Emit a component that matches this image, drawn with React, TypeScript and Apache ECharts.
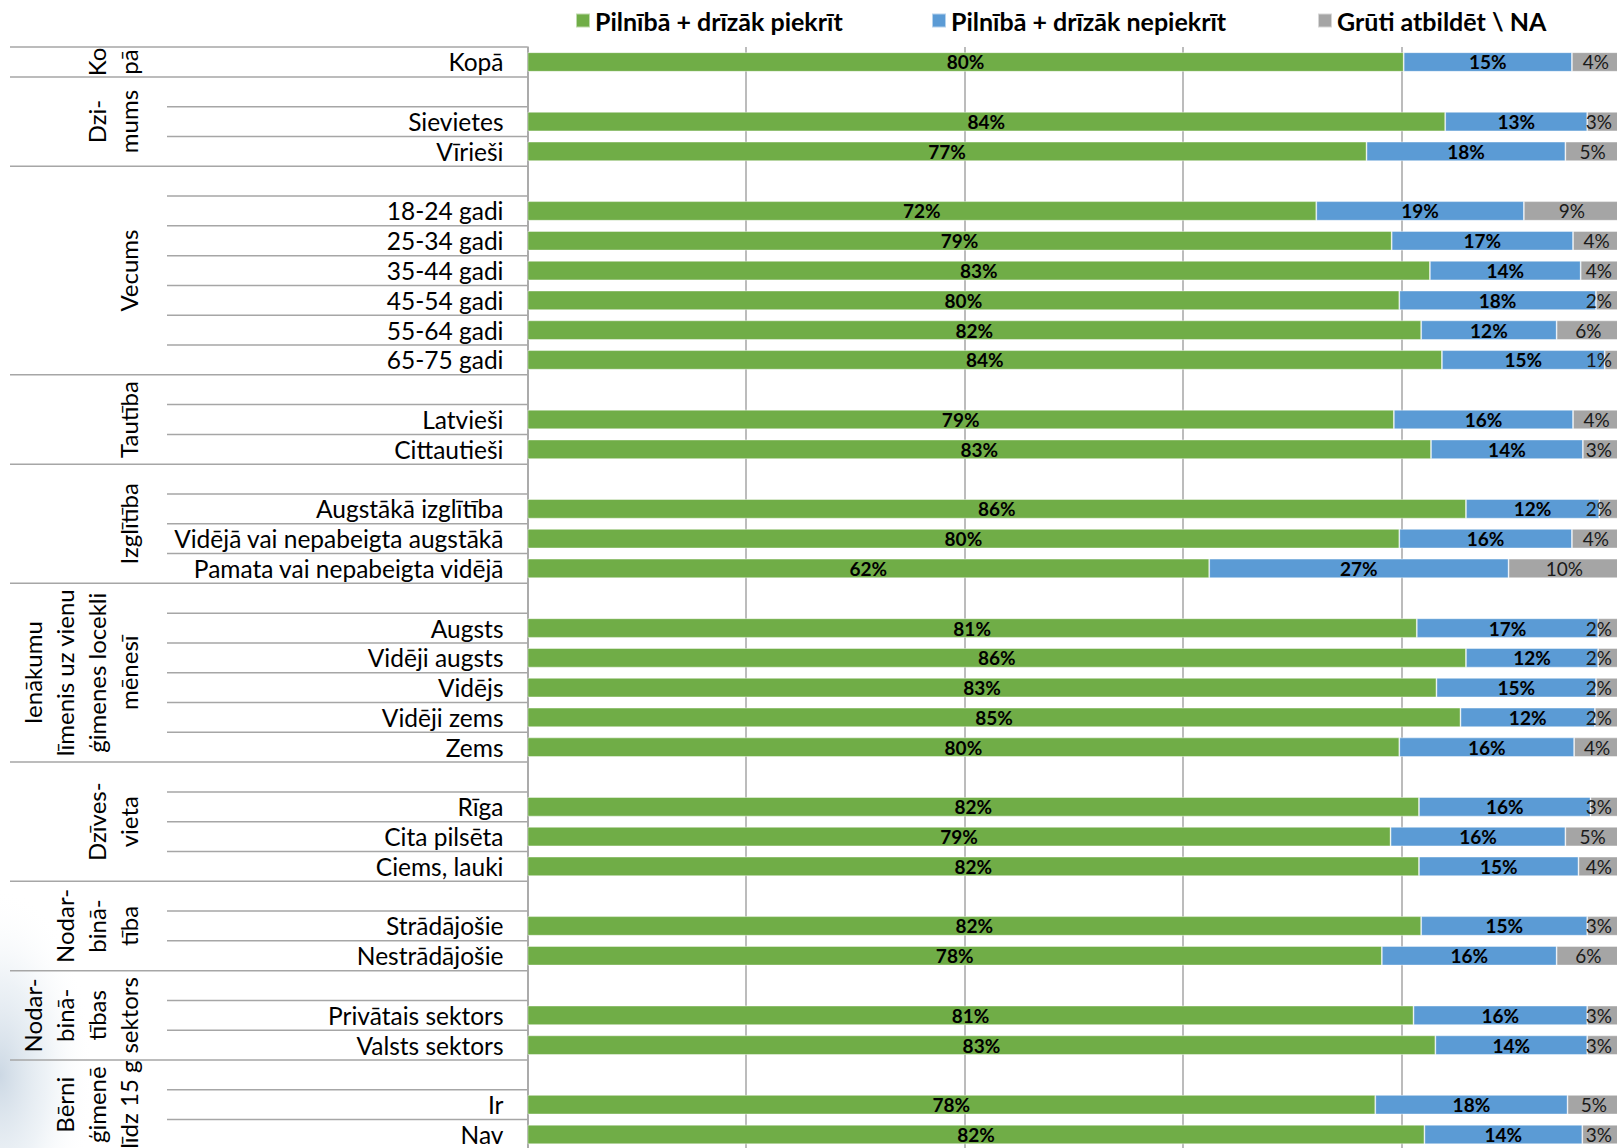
import React, { useEffect, useRef } from "react";
import * as echarts from "echarts";

const categories = [
  "Kopā", "", "Sievietes", "Vīrieši", "",
  "18-24 gadi", "25-34 gadi", "35-44 gadi", "45-54 gadi", "55-64 gadi", "65-75 gadi", "",
  "Latvieši", "Cittautieši", "",
  "Augstākā izglītība", "Vidējā vai nepabeigta augstākā", "Pamata vai nepabeigta vidējā", "",
  "Augsts", "Vidēji augsts", "Vidējs", "Vidēji zems", "Zems", "",
  "Rīga", "Cita pilsēta", "Ciems, lauki", "",
  "Strādājošie", "Nestrādājošie", "",
  "Privātais sektors", "Valsts sektors", "",
  "Ir", "Nav",
];

const agree = [80.2, null, 84.0, 76.8, null, 72.2, 79.1, 82.6, 79.8, 81.8, 83.7, null, 79.3, 82.7, null, 85.9, 79.8, 62.4, null, 81.4, 85.9, 83.2, 85.4, 79.8, null, 81.6, 79.0, 81.6, null, 81.8, 78.2, null, 81.1, 83.1, null, 77.6, 82.1];
const disagree = [15.4, null, 13.0, 18.2, null, 19.0, 16.6, 13.8, 18.0, 12.4, 14.9, null, 16.4, 13.9, null, 12.2, 15.8, 27.4, null, 16.6, 12.1, 14.6, 12.3, 16.0, null, 15.7, 16.0, 14.6, null, 15.2, 16.0, null, 15.9, 13.9, null, 17.6, 14.45];
const na = [4.4, null, 3.0, 5.0, null, 8.8, 4.3, 3.6, 2.2, 5.8, 1.4, null, 4.3, 3.4, null, 1.9, 4.4, 10.2, null, 2.0, 2.0, 2.2, 2.3, 4.2, null, 2.7, 5.0, 3.8, null, 3.0, 5.8, null, 3.0, 3.0, null, 4.8, 3.45];

const seriesNames = ["Pilnībā + drīzāk piekrīt", "Pilnībā + drīzāk nepiekrīt", "Grūti atbildēt \\ NA"];

const groupLabels = [
  "Ko\npā",
  "Dzi-\nmums",
  "Vecums",
  "Tautība",
  "Izglītība",
  "Ienākumu\nlīmenis uz vienu\nģimenes locekli\nmēnesī",
  "Dzīves-\nvieta",
  "Nodar-\nbinā-\ntība",
  "Nodar-\nbinā-\ntības\nsektors",
  "Bērni\nģimenē\nlīdz 15 g",
];
const groupFirst = [0, 1, 4, 11, 14, 18, 24, 28, 31, 34];
const groupLast = [0, 3, 10, 13, 17, 23, 27, 30, 33, 36];

const FONT = "Lato, 'Open Sans', sans-serif";
const LINE = "#A6A6A6";

export default function App() {
  const ref = useRef<HTMLDivElement>(null);

  useEffect(() => {
    if (!ref.current) return;
    const chart = echarts.init(ref.current, null, { renderer: "svg" });

    const labelBase = {
      show: true,
      position: "inside",
      fontFamily: FONT,
      fontSize: 19,
      color: "#000",
      formatter: (p: any) => (p.value == null ? "" : `${Math.round(p.value)}%`),
    };

    const naData = na.map((v) =>
      v == null ? null : v < 3.9 ? { value: v, label: { position: "insideRight", distance: 8 } } : v
    );

    const legendCommon = {
      orient: "horizontal",
      top: 8,
      padding: 0,
      itemWidth: 14,
      itemHeight: 14,
      icon: "rect",
      textStyle: { fontFamily: FONT, fontSize: 25, fontWeight: "bold", color: "#000" },
    };

    chart.setOption({
      animation: false,
      backgroundColor: "#fff",
      legend: [
        { ...legendCommon, left: 575, data: [seriesNames[0]] },
        { ...legendCommon, left: 931, data: [seriesNames[1]] },
        { ...legendCommon, left: 1317, data: [seriesNames[2]] },
      ],
      grid: { left: 527.5, top: 47.1, width: 1092.5, height: 1102.3 },
      xAxis: {
        type: "value",
        min: 0,
        max: 100,
        interval: 20,
        axisLabel: { show: false },
        axisLine: { show: false },
        axisTick: { show: false },
        splitLine: { show: true, lineStyle: { color: LINE, width: 1.5 } },
      },
      yAxis: {
        type: "category",
        inverse: true,
        data: categories,
        axisLine: { show: true, lineStyle: { color: LINE, width: 1.5 } },
        axisTick: { show: false },
        axisLabel: {
          interval: 0,
          fontFamily: FONT,
          fontSize: 24.5,
          color: "#000",
          margin: 24,
          padding: [0, 0, 4, 0],
        },
      },
      series: [
        {
          name: seriesNames[0],
          type: "bar",
          stack: "total",
          barWidth: 19.5,
          data: agree,
          itemStyle: { color: "#70AD47", borderColor: "rgba(255,255,255,0.55)", borderWidth: 0.8 },
          label: { ...labelBase, fontWeight: "bold" },
        },
        {
          name: seriesNames[1],
          type: "bar",
          stack: "total",
          barWidth: 19.5,
          data: disagree,
          itemStyle: { color: "#5B9BD5", borderColor: "rgba(255,255,255,0.55)", borderWidth: 0.8 },
          label: { ...labelBase, fontWeight: "bold" },
        },
        {
          name: seriesNames[2],
          type: "bar",
          stack: "total",
          barWidth: 19.5,
          data: naData,
          itemStyle: { color: "#A5A5A5", borderColor: "rgba(255,255,255,0.55)", borderWidth: 0.8 },
          label: { ...labelBase, fontWeight: "normal", color: "#1a1a1a" },
        },
      ],
    });

    // Build hierarchical category decorations from the axis scale
    const yAt = (i: number) => chart.convertToPixel({ yAxisIndex: 0 }, i) as number;
    const band = yAt(1) - yAt(0);
    const axisX = chart.convertToPixel({ xAxisIndex: 0 }, 0) as number;
    const graphics: any[] = [];

    graphics.push({
      type: "rect",
      z: -10,
      silent: true,
      shape: { x: 0, y: 820, width: 170, height: 340 },
      style: {
        fill: new echarts.graphic.RadialGradient(0, 0.75, 0.55, [
          { offset: 0, color: "rgba(170,190,210,0.6)" },
          { offset: 0.5, color: "rgba(200,215,228,0.32)" },
          { offset: 1, color: "rgba(255,255,255,0)" },
        ]),
      },
    });

    groupFirst.forEach((s, gi) => {
      const e = groupLast[gi];
      const top = yAt(s) - band / 2;
      const bottom = yAt(e) + band / 2;
      graphics.push({
        type: "line",
        silent: true,
        shape: { x1: 10, y1: top, x2: axisX, y2: top },
        style: { stroke: LINE, lineWidth: 1.5 },
      });
      for (let i = s + 1; i <= e; i++) {
        const y = yAt(i) - band / 2;
        graphics.push({
          type: "line",
          silent: true,
          shape: { x1: 167, y1: y, x2: axisX, y2: y },
          style: { stroke: LINE, lineWidth: 1.5 },
        });
      }
      graphics.push({
        type: "text",
        silent: true,
        x: 144,
        y: (top + bottom) / 2,
        rotation: Math.PI / 2,
        style: {
          text: groupLabels[gi],
          fontFamily: FONT,
          fontSize: 24,
          lineHeight: 32,
          fill: "#000",
          align: "center",
          verticalAlign: "bottom",
        },
      });
    });
    const lastBottom = yAt(groupLast[groupLast.length - 1]) + band / 2;
    graphics.push({
      type: "line",
      silent: true,
      shape: { x1: 10, y1: lastBottom, x2: axisX, y2: lastBottom },
      style: { stroke: LINE, lineWidth: 1.5 },
    });

    chart.setOption({ graphic: graphics });

    return () => chart.dispose();
  }, []);

  return (
    <div style={{ position: "fixed", left: 0, top: 0, width: 1617, height: 1148, overflow: "hidden", background: "#fff" }}>
      <div ref={ref} style={{ width: 1640, height: 1160 }} />
    </div>
  );
}
